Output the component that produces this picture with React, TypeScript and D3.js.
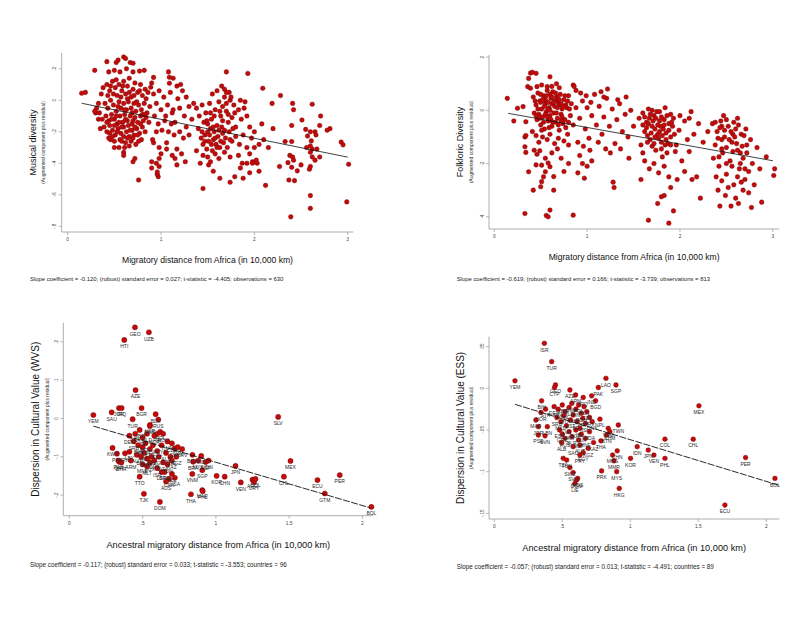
import * as d3 from "d3";

type Pt = [number, number];
type Country = [string, number, number];

// Musical diversity vs migratory distance
const musicalPoints: Pt[] = [
  [0.15,0.045],[0.19,0.05],[0.29,0.19],[0.42,0.245],[0.52,0.24],[0.54,0.255],[0.6,0.275],[0.62,0.265],[0.67,0.24],[0.7,0.235],
  [0.44,0.18],[0.5,0.19],[0.56,0.18],[0.63,0.2],[0.7,0.18],[0.77,0.185],[0.82,0.19],
  [0.92,0.145],[0.9,0.11],[0.89,0.083],[1.08,0.18],[1.09,0.146],[1.09,0.108],[1.13,0.14],
  [1.7,0.18],[1.93,0.17],[2.09,0.076],[2.28,0.03],[2.19,-0.02],[2.41,-0.02],[2.42,-0.06],[2.62,-0.025],
  [2.51,-0.125],[2.71,-0.1],[2.81,-0.18],[2.7,-0.16],[2.4,-0.16],[2.55,-0.185],[2.65,-0.2],[2.78,-0.19],[2.6,-0.2],
  [2.33,-0.262],[2.4,-0.262],[2.57,-0.227],[2.61,-0.258],[2.6,-0.29],[2.66,-0.22],[2.93,-0.265],[2.95,-0.283],
  [2.56,-0.3],[2.62,-0.31],[2.67,-0.31],[2.6,-0.33],
  [2.38,-0.35],[2.41,-0.36],[2.42,-0.38],[2.36,-0.396],[2.4,-0.425],[2.46,-0.448],[2.5,-0.41],[2.6,-0.42],[2.59,-0.437],[2.65,-0.38],[2.7,-0.36],[2.62,-0.36],[3.01,-0.406],
  [2.27,-0.42],[2.37,-0.506],[2.43,-0.51],[2.6,-0.605],[2.6,-0.686],[2.39,-0.74],[2.99,-0.645],
  [2.12,-0.54],[2.05,-0.45],[1.98,-0.39],
  [1.51,-0.41],[1.63,-0.495],[1.74,-0.52],[1.79,-0.485],[1.88,-0.495],[1.95,-0.46],[1.98,-0.4],[2.03,-0.4],[1.92,-0.4],[1.87,-0.4],[1.83,-0.35],[1.95,-0.34],[1.85,-0.43],
  [1.45,-0.56],[1.56,-0.45],[1.42,-0.4],[1.38,-0.32],
  [0.76,-0.506],[0.97,-0.485],[0.96,-0.47],[0.96,-0.455],[0.98,-0.42],[0.95,-0.4],[0.98,-0.37],[0.9,-0.43],[0.9,-0.39],[0.91,-0.25],[0.92,-0.27],[0.98,-0.3],[1.0,-0.34],
  [1.06,-0.31],[1.17,-0.31],[1.22,-0.34],[1.26,-0.39],[1.17,-0.41],[1.12,-0.35],[1.15,-0.37],
  [0.7,-0.39],[0.72,-0.37],[0.6,-0.33],[0.6,-0.35],[0.55,-0.3],[0.5,-0.3],[0.46,-0.25],[0.35,-0.18],[0.33,-0.12],[0.3,-0.08],[0.31,-0.05],[0.37,-0.12],
  [0.42,0.1],[0.45,0.06],[0.48,0.12],[0.51,0.08],[0.53,0.03],[0.55,0.1],[0.58,0.06],[0.6,0.12],[0.62,0.04],[0.64,0.09],[0.66,0.14],[0.68,0.02],[0.7,0.07],[0.72,0.11],[0.75,0.05],[0.78,0.1],[0.8,0.03],[0.83,0.07],[0.86,0.05],
  [0.4,-0.02],[0.43,-0.05],[0.46,0.0],[0.49,-0.03],[0.52,-0.07],[0.55,-0.01],[0.57,-0.05],[0.6,-0.02],[0.63,-0.06],[0.65,-0.01],[0.68,-0.05],[0.71,-0.02],[0.73,-0.07],[0.76,-0.03],[0.79,-0.06],[0.82,-0.02],[0.85,-0.08],[0.88,-0.04],
  [0.41,-0.1],[0.44,-0.13],[0.47,-0.09],[0.5,-0.12],[0.53,-0.15],[0.56,-0.1],[0.59,-0.14],[0.61,-0.09],[0.64,-0.13],[0.67,-0.1],[0.69,-0.15],[0.72,-0.11],[0.75,-0.14],[0.78,-0.1],[0.81,-0.13],[0.84,-0.11],[0.87,-0.14],
  [0.39,-0.17],[0.42,-0.2],[0.45,-0.16],[0.48,-0.19],[0.51,-0.22],[0.54,-0.18],[0.57,-0.21],[0.6,-0.17],[0.63,-0.2],[0.66,-0.23],[0.69,-0.19],[0.71,-0.22],[0.74,-0.18],[0.77,-0.21],[0.8,-0.17],[0.83,-0.2],
  [0.44,-0.24],[0.5,-0.26],[0.56,-0.25],[0.62,-0.27],[0.68,-0.26],[0.73,-0.28],[0.79,-0.25],[0.61,-0.3],[0.66,-0.29],
  [0.33,-0.02],[0.36,0.04],[0.38,0.08],[0.34,-0.08],[0.29,-0.07],
  [0.43,0.03],[0.46,0.09],[0.49,0.04],[0.52,0.13],[0.54,-0.04],[0.57,0.02],[0.59,0.09],[0.61,-0.06],[0.64,0.01],[0.66,0.05],[0.69,-0.08],[0.71,0.03],[0.74,-0.01],[0.77,0.06],[0.8,-0.09],[0.84,0.01],
  [0.42,-0.14],[0.45,-0.21],[0.47,-0.12],[0.5,-0.16],[0.52,-0.1],[0.55,-0.14],[0.58,-0.17],[0.6,-0.23],[0.62,-0.12],[0.65,-0.16],[0.67,-0.19],[0.7,-0.13],[0.72,-0.17],[0.75,-0.22],[0.78,-0.15],[0.82,-0.09],
  [0.48,-0.23],[0.53,-0.2],[0.58,-0.26],[0.64,-0.24],[0.7,-0.24],[0.76,-0.26],
  [0.92,0.04],[0.95,-0.02],[0.98,0.06],[1.0,-0.06],[1.03,0.02],[1.05,-0.1],[1.07,-0.03],[1.1,0.05],[1.12,-0.08],[1.15,-0.14],[1.18,0.01],[1.2,-0.05],[1.23,0.06],[1.25,-0.1],[1.27,-0.17],[1.3,-0.04],[1.33,-0.12],[1.35,-0.02],
  [0.93,-0.1],[0.97,-0.15],[1.01,-0.19],[1.04,-0.13],[1.08,-0.2],[1.11,-0.15],[1.14,-0.22],[1.2,-0.2],[1.24,-0.24],[1.3,-0.22],[0.95,-0.2],[1.06,-0.27],[1.13,-0.06],[1.17,0.09],[1.21,0.1],[1.27,0.02],
  [1.38,-0.05],[1.41,-0.1],[1.44,-0.03],[1.46,-0.14],[1.48,-0.08],[1.5,-0.2],[1.52,-0.02],[1.54,-0.12],[1.56,-0.25],[1.58,-0.06],[1.6,-0.16],[1.62,-0.01],[1.64,-0.1],[1.66,-0.21],[1.68,0.02],[1.7,-0.07],[1.72,-0.14],[1.74,0.0],[1.76,-0.11],[1.78,-0.03],[1.8,-0.17],[1.83,-0.06],[1.86,-0.12],[1.89,-0.05],[1.92,-0.1],[1.95,-0.17],
  [1.4,-0.18],[1.43,-0.24],[1.45,-0.28],[1.47,-0.22],[1.49,-0.31],[1.51,-0.26],[1.53,-0.18],[1.55,-0.32],[1.57,-0.2],[1.59,-0.28],[1.61,-0.23],[1.63,-0.3],[1.65,-0.17],[1.67,-0.27],[1.69,-0.24],[1.71,-0.3],[1.73,-0.2],[1.76,-0.26],[1.8,-0.23],[1.84,-0.28],[1.88,-0.22],[1.92,-0.3],[1.97,-0.24],
  [1.44,-0.2],[1.47,-0.26],[1.5,-0.15],[1.52,-0.22],[1.54,-0.28],[1.56,-0.17],[1.58,-0.24],[1.6,-0.3],[1.62,-0.19],[1.64,-0.26],[1.66,-0.13],[1.68,-0.19],[1.7,-0.02],[1.72,-0.09],[1.74,-0.25],[1.77,-0.18],[1.79,-0.08],[1.66,-0.04],[1.63,-0.07],[1.57,-0.1],[1.53,-0.08],[1.49,-0.13],[1.73,0.05],[1.68,0.07],
  [1.45,-0.35],[1.5,-0.36],[1.53,-0.39],[1.58,-0.34],[1.62,-0.37],[1.68,-0.33],[1.74,-0.36],
  [1.55,0.04],[1.6,0.06],[1.65,0.09],[1.7,0.05],[1.75,0.02],[1.85,0.0],[1.9,-0.01],
  [2.0,-0.2],[2.05,-0.28],[2.1,-0.25],[2.15,-0.3],[2.2,-0.18],[2.08,-0.15],[2.0,-0.3],[2.02,-0.38],
];

// Folkloric diversity vs migratory distance
const folkloricPoints: Pt[] = [
  [0.39,1.4],[0.41,1.43],[0.45,1.39],[0.37,1.2],[0.36,0.89],[0.39,0.83],[0.6,1.26],[0.67,1.0],[0.46,0.89],[0.51,0.95],[0.57,0.89],[0.62,0.9],[0.7,0.85],[0.85,0.95],[0.86,0.9],[0.93,0.65],[0.88,0.75],
  [0.14,0.45],[0.21,-0.4],[0.25,0.08],[0.31,0.14],[0.34,-0.43],[0.33,-1.0],[0.34,-0.95],[0.33,-1.37],[0.34,-1.58],[0.37,-2.31],[0.42,-3.0],[0.33,-3.88],[0.56,-3.95],[0.58,-4.0],[0.6,-3.75],[0.64,-3.0],[0.64,-2.49],
  [0.5,-2.87],[0.51,-2.68],[0.53,-2.5],[0.55,-2.31],[0.6,-2.12],[0.51,-2.06],[0.55,-1.8],[0.58,-1.98],[0.85,-3.94],[0.43,-1.5],[0.46,-1.65],[0.49,-1.52],[0.45,-2.05],[0.62,-1.6],[0.68,-1.45],[0.72,-1.8],[0.8,-2.0],[0.75,-2.3],[0.9,-2.35],[0.95,-2.0],[0.97,-2.55],[1.0,-2.1],[0.92,-1.7],[1.05,-1.9],
  [0.42,0.5],[0.45,0.2],[0.47,0.65],[0.49,0.35],[0.51,0.05],[0.53,0.55],[0.55,0.25],[0.57,0.75],[0.59,0.1],[0.61,0.45],[0.63,0.7],[0.65,0.15],[0.67,0.5],[0.69,0.3],[0.71,0.6],[0.73,0.05],[0.75,0.4],[0.77,0.2],[0.8,0.55],[0.83,0.25],
  [0.43,-0.1],[0.46,-0.35],[0.48,-0.15],[0.5,-0.55],[0.52,-0.25],[0.54,-0.7],[0.56,-0.05],[0.58,-0.4],[0.6,-0.2],[0.62,-0.6],[0.64,-0.1],[0.66,-0.45],[0.68,-0.3],[0.7,-0.75],[0.72,-0.15],[0.74,-0.5],[0.76,-0.35],[0.79,-0.9],[0.82,-0.2],[0.85,-0.55],
  [0.41,-0.8],[0.45,-0.95],[0.48,-1.2],[0.52,-1.0],[0.57,-1.1],[0.6,-0.9],[0.65,-1.25],[0.69,-1.05],[0.75,-1.15],[0.8,-1.3],[0.55,0.4],[0.6,0.6],[0.7,0.2],[0.65,0.35],[0.5,0.3],[0.58,0.05],[0.62,0.25],[0.68,0.1],[0.72,-0.4],[0.78,0.1],
  [0.44,0.35],[0.47,0.05],[0.5,0.6],[0.52,0.4],[0.54,0.15],[0.56,0.55],[0.58,0.3],[0.6,0.0],[0.62,0.5],[0.64,0.3],[0.66,0.65],[0.68,0.45],[0.7,0.4],[0.72,0.25],[0.74,0.15],[0.76,0.55],[0.79,0.35],[0.81,0.05],
  [0.45,-0.2],[0.49,-0.3],[0.53,-0.45],[0.55,-0.15],[0.57,-0.25],[0.61,-0.35],[0.63,-0.45],[0.67,-0.1],[0.69,-0.55],[0.73,-0.25],[0.77,-0.65],[0.8,-0.45],[0.51,-0.75],[0.59,-0.65],
  [0.88,0.1],[0.92,-0.3],[0.95,0.35],[0.98,-0.7],[1.0,0.1],[1.02,-1.05],[1.05,-0.2],[1.08,0.6],[1.1,-0.55],[1.13,0.15],[1.16,-0.9],[1.18,-0.25],[1.21,0.45],[1.24,-0.6],[1.27,0.05],[1.3,-1.25],[1.32,-0.35],[1.35,0.25],[1.38,-0.8],[1.41,-0.15],[1.44,-1.0],[1.47,0.0],[1.5,-0.6],
  [0.9,-1.2],[0.96,-1.35],[1.03,-1.5],[1.12,-1.2],[1.2,-1.45],[1.28,-2.7],[1.29,-2.9],[1.25,-1.6],[1.36,-1.45],[1.45,-1.8],[1.15,0.7],[1.22,0.8],[1.18,0.5],[0.99,0.55],[1.04,0.3],[1.42,0.5],[1.33,0.4],
  [1.56,-0.3],[1.58,-1.3],[1.6,-0.1],[1.62,-0.8],[1.64,-0.45],[1.66,0.05],[1.68,-1.1],[1.7,-0.6],[1.72,-0.2],[1.74,-1.5],[1.76,-0.9],[1.78,-0.4],[1.8,-1.2],[1.82,-0.7],[1.84,0.1],[1.86,-1.6],[1.88,-0.5],[1.9,-1.0],[1.93,-0.3],[1.96,-1.3],[1.99,-0.75],[2.02,-1.9],[2.05,-0.4],[2.08,-1.1],
  [1.6,-0.55],[1.65,-0.95],[1.67,-0.3],[1.7,-1.35],[1.73,-0.7],[1.75,-0.05],[1.77,-1.05],[1.79,-0.6],[1.81,-1.75],[1.83,-0.35],[1.85,-0.85],[1.87,-1.25],[1.9,-0.15],[1.92,-0.6],[1.95,-1.55],[1.62,-1.9],[1.67,-2.2],[1.72,-2.0],[1.77,-2.35],[1.83,-2.1],[1.88,-2.5],[1.6,-1.6],[1.58,-2.6],
  [1.62,-0.25],[1.64,-0.65],[1.66,-0.5],[1.68,-0.15],[1.69,-0.85],[1.71,-0.4],[1.73,-1.0],[1.74,-0.3],[1.76,-0.55],[1.78,-0.8],[1.8,-0.25],[1.81,-0.95],[1.83,-0.55],[1.85,-1.1],[1.86,-0.2],[1.88,-0.75],[1.9,-1.3],[1.91,-0.45],[1.94,-0.9],[1.7,0.0],[1.78,-0.05],[1.65,-1.2],[1.72,-1.25],[1.8,-1.45],[1.84,-1.3],
  [1.66,-4.13],[1.88,-4.24],[1.93,-3.78],[1.76,-3.5],[1.8,-3.25],[1.83,-3.2],[1.9,-2.9],[1.97,-2.6],[2.05,-2.3],[2.1,-1.55],[2.13,-2.6],[2.18,-2.5],[2.22,-3.3],[2.0,-0.2],[2.1,-0.3],[2.15,-0.9],[2.2,-0.5],[2.25,-1.2],[2.3,-0.8],[2.12,-0.05],
  [2.35,-0.5],[2.38,-1.3],[2.4,-0.8],[2.42,-2.1],[2.44,-0.4],[2.46,-1.6],[2.48,-1.0],[2.5,-2.4],[2.52,-0.6],[2.54,-1.9],[2.56,-1.2],[2.58,-2.8],[2.6,-0.7],[2.62,-1.5],[2.64,-2.2],[2.66,-0.9],[2.68,-1.8],[2.7,-2.6],[2.72,-1.3],[2.74,-3.1],[2.76,-1.1],[2.78,-2.0],
  [2.36,-1.8],[2.39,-2.5],[2.41,-3.0],[2.43,-3.6],[2.45,-1.1],[2.47,-0.2],[2.49,-3.2],[2.52,-2.9],[2.55,-3.6],[2.57,-0.9],[2.6,-3.3],[2.63,-3.5],[2.65,-2.0],[2.68,-3.0],[2.71,-0.7],[2.74,-2.3],[2.77,-3.65],[2.8,-2.8],[2.83,-1.4],[2.86,-2.2],[2.88,-3.45],[2.93,-1.75],[3.02,-2.2],[3.01,-2.45],[2.45,-0.6],[2.5,-1.4],[2.58,-0.45],[2.62,-0.3],
  [2.38,-0.45],[2.41,-1.05],[2.43,-0.65],[2.45,-1.45],[2.48,-0.75],[2.5,-0.35],[2.53,-1.1],[2.55,-0.8],[2.57,-1.55],[2.59,-1.0],[2.61,-1.25],[2.63,-0.55],[2.65,-1.6],[2.67,-1.35],[2.69,-0.95],[2.42,-1.75],[2.5,-2.0],[2.56,-2.1],[2.62,-2.5],[2.7,-2.2],[2.72,-1.6],[2.66,-2.7],[2.45,-2.65],
];

// Dispersion in cultural value, WVS countries
const wvsCountries: Country[] = [
  ["GEO",0.448,0.238],["UZB",0.543,0.225],["HTI",0.375,0.205],["AZE",0.452,0.074],["YEM",0.164,0.009],["SAU",0.289,0.016],
  ["JOR",0.339,0.027],["IRQ",0.357,0.027],["BGR",0.493,0.027],["TUR",0.432,-0.002],["BLR",0.589,0.011],["RUS",0.607,-0.003],
  ["UKR",0.55,-0.017],["SLV",1.425,0.004],["KWT",0.295,-0.077],["PSE",0.325,-0.092],["IRN",0.38,-0.091],["LBY",0.41,-0.087],
  ["ARM",0.42,-0.11],["PAK",0.335,-0.11],["QAT",0.34,-0.113],["BHR",0.355,-0.115],["TTO",0.48,-0.152],["TJK",0.509,-0.197],
  ["DOM",0.618,-0.218],["THA",0.83,-0.198],["MAR",0.907,-0.187],["PHL",0.91,-0.19],["VNM",0.839,-0.145],["SGP",0.907,-0.135],
  ["KOR",1.005,-0.15],["CHN",1.06,-0.152],["BRA",0.845,-0.113],["ESP",0.93,-0.114],["IND",0.9,-0.098],["JPN",1.134,-0.124],
  ["VEN",1.17,-0.167],["MEX",1.509,-0.111],["CHL",1.464,-0.152],["ARG",1.25,-0.16],["URY",1.26,-0.166],["COL",1.27,-0.158],
  ["ECU",1.693,-0.161],["PER",1.845,-0.148],["GTM",1.743,-0.196],["BOL",2.061,-0.231],["CAN",0.68,-0.158],["USA",0.72,-0.155],
  ["LBN",0.63,-0.14],["NZL",0.7,-0.145],["AUS",0.66,-0.165],
  ["DEU",0.41,-0.045],["FRA",0.45,-0.04],["GBR",0.48,-0.03],["ITA",0.5,-0.05],["NLD",0.53,-0.04],["SWE",0.55,-0.02],["NOR",0.58,-0.045],
  ["FIN",0.6,-0.04],["POL",0.62,-0.035],["ROU",0.64,-0.04],["HUN",0.67,-0.06],["CZE",0.7,-0.065],["SVK",0.72,-0.078],["SVN",0.74,-0.075],
  ["HRV",0.77,-0.08],["SRB",0.44,-0.06],["BIH",0.47,-0.07],["MKD",0.5,-0.075],["MDA",0.52,-0.065],["LTU",0.55,-0.08],["LVA",0.57,-0.07],
  ["EST",0.6,-0.085],["CYP",0.63,-0.07],["ALB",0.66,-0.09],["CHE",0.69,-0.1],["AUT",0.46,-0.095],["BEL",0.49,-0.1],["IRL",0.51,-0.09],
  ["PRT",0.53,-0.105],["ISL",0.56,-0.1],["DNK",0.58,-0.11],["EGY",0.61,-0.1],["DZA",0.64,-0.115],["TUN",0.67,-0.12],["KAZ",0.7,-0.11],
  ["KGZ",0.73,-0.1],["MNE",0.5,-0.12],["MLT",0.53,-0.125],["LUX",0.55,-0.115],["ISR",0.6,-0.13],["GRC",0.65,-0.14],["IDN",0.95,-0.11],
  ["MYS",0.88,-0.11],["BGD",0.84,-0.095],
];

// Dispersion in cultural value, ESS countries
const essCountries: Country[] = [
  ["ISR",0.368,0.054],["TUR",0.422,0.032],["YEM",0.152,0.009],["GEO",0.45,0.004],["CYP",0.443,0.001],["LAO",0.821,0.012],
  ["SGP",0.895,0.004],["PAK",0.765,0.001],["IND",0.716,-0.009],["BGD",0.745,-0.015],["AZE",0.556,-0.002],["ARM",0.598,-0.008],
  ["IRQ",0.654,-0.011],["BIH",0.348,-0.015],["SYR",0.377,-0.025],["NOR",0.343,-0.029],["MAR",0.306,-0.038],["JOR",0.324,-0.046],
  ["PSE",0.324,-0.056],["SVN",0.373,-0.057],["LBN",0.39,-0.046],["ALB",0.495,-0.065],["NPL",0.777,-0.037],["TWN",0.912,-0.044],
  ["VNM",0.838,-0.048],["KHM",0.85,-0.052],["BTN",0.826,-0.056],["THA",0.784,-0.063],["COL",1.255,-0.061],["CHL",1.463,-0.061],
  ["MEX",1.505,-0.021],["IDN",1.051,-0.07],["JPN",1.132,-0.074],["VEN",1.174,-0.08],["PHL",1.255,-0.084],["KOR",1.002,-0.084],
  ["CHN",0.904,-0.075],["MNG",0.87,-0.08],["MMR",0.88,-0.087],["PRK",0.789,-0.099],["MYS",0.9,-0.1],["HKG",0.919,-0.12],
  ["ECU",1.696,-0.14],["PER",1.848,-0.083],["BOL",2.064,-0.108],["EGY",0.654,-0.077],["PRY",0.63,-0.08],["TZA",0.507,-0.084],
  ["TUN",0.532,-0.086],["SWZ",0.556,-0.095],["SVK",0.58,-0.101],["MDG",0.613,-0.108],["DOM",0.605,-0.11],["LIE",0.593,-0.114],
  ["DEU",0.44,-0.022],["FRA",0.47,-0.025],["GBR",0.5,-0.02],["ITA",0.52,-0.028],["NLD",0.55,-0.023],["SWE",0.57,-0.018],
  ["FIN",0.6,-0.025],["POL",0.62,-0.02],["ROU",0.64,-0.03],["HUN",0.66,-0.022],["CZE",0.68,-0.028],["HRV",0.7,-0.035],
  ["SRB",0.46,-0.035],["MKD",0.49,-0.04],["LTU",0.51,-0.033],["LVA",0.53,-0.045],["EST",0.56,-0.038],["CHE",0.58,-0.032],
  ["BEL",0.61,-0.04],["IRL",0.63,-0.048],["PRT",0.65,-0.036],["ISL",0.67,-0.042],["DNK",0.72,-0.04],["ESP",0.48,-0.05],
  ["GRC",0.5,-0.055],["RUS",0.52,-0.06],["UKR",0.55,-0.052],["BLR",0.57,-0.058],["BGR",0.6,-0.05],["MLT",0.62,-0.062],
  ["LUX",0.64,-0.055],["MNE",0.67,-0.06],["MDA",0.7,-0.052],["KAZ",0.73,-0.065],["SAU",0.58,-0.07],["AUT",0.63,-0.068],
  ["KGZ",0.69,-0.072],
];

const distTicks3 = [0, 1, 2, 3];
const distTicksHalf = [0, 0.5, 1, 1.5, 2];
const musicalTicksY = [0.2, 0, -0.2, -0.4, -0.6, -0.8];
const folkloricTicksY = [2, 0, -2, -4];
const wvsTicksY = [0.2, 0.1, 0, -0.1, -0.2];
const essTicksY = [0.05, 0, -0.05, -0.1, -0.15];

const FONT = "'Liberation Sans', Arial, Helvetica, sans-serif";
const RED = "#c30b0b";
const RED_EDGE = "#6e0000";

// Stata style numbers: .5, -.2, 1.5
const fmt = (v: number) => (v === 0 ? "0" : String(v).replace(/^(-?)0\./, "$1."));

interface PanelProps {
  box: { left: number; right: number; top: number; bottom: number };
  xDomain: [number, number];
  yDomain: [number, number];
  xTicks: number[];
  yTicks: number[];
  points: Pt[];
  labels?: string[];
  radius: number;
  fit: { slope: number; intercept: number; x0: number; x1: number; dashed: boolean };
  yTitle: string;
  yTitleSize: number;
  yTitleX: number;
  ySubX: number;
  xTitle: string;
  xTitleSize: number;
  xTitleY: number;
  footer: string;
  footerSize: number;
  footerX: number;
  footerY: number;
}

function Panel(p: PanelProps) {
  const { box } = p;
  const x = d3.scaleLinear().domain(p.xDomain).range([box.left, box.right]);
  const y = d3.scaleLinear().domain(p.yDomain).range([box.bottom, box.top]);
  const line = d3
    .line<number>()
    .x((d) => x(d))
    .y((d) => y(p.fit.intercept + p.fit.slope * d));
  const midY = (box.top + box.bottom) / 2;
  const midX = (box.left + box.right) / 2;

  return (
    <g fontFamily={FONT}>
      {/* axes */}
      <line x1={box.left} x2={box.left} y1={box.top} y2={box.bottom} stroke="#9a9a9a" strokeWidth={0.8} />
      <line x1={box.left} x2={box.right} y1={box.bottom} y2={box.bottom} stroke="#9a9a9a" strokeWidth={0.8} />
      {p.yTicks.map((t) => (
        <g key={"y" + t}>
          <line x1={box.left - 3} x2={box.left} y1={y(t)} y2={y(t)} stroke="#9a9a9a" strokeWidth={0.7} />
          <text
            transform={`translate(${box.left - 5.5},${y(t)}) rotate(-90)`}
            textAnchor="middle"
            fontSize={4.6}
            fill="#444"
          >
            {fmt(t)}
          </text>
        </g>
      ))}
      {p.xTicks.map((t) => (
        <g key={"x" + t}>
          <line x1={x(t)} x2={x(t)} y1={box.bottom} y2={box.bottom + 3} stroke="#9a9a9a" strokeWidth={0.7} />
          <text x={x(t)} y={box.bottom + 9} textAnchor="middle" fontSize={4.8} fill="#444">
            {fmt(t)}
          </text>
        </g>
      ))}

      {/* points */}
      {p.points.map((d, i) => (
        <circle key={i} cx={x(d[0])} cy={y(d[1])} r={p.radius} fill={RED} stroke={RED_EDGE} strokeWidth={0.4} />
      ))}
      {p.labels &&
        p.points.map((d, i) => (
          <text key={"l" + i} x={x(d[0])} y={y(d[1]) + 8.3} textAnchor="middle" fontSize={5} fill="#2a2a2a">
            {p.labels![i]}
          </text>
        ))}

      {/* fitted line */}
      <path
        d={line([p.fit.x0, p.fit.x1]) || ""}
        fill="none"
        stroke="#111"
        strokeWidth={p.fit.dashed ? 0.9 : 0.8}
        strokeDasharray={p.fit.dashed ? "7,1.4" : undefined}
      />

      {/* titles */}
      <text
        transform={`translate(${p.yTitleX},${midY}) rotate(-90)`}
        textAnchor="middle"
        fontSize={p.yTitleSize}
        fill="#111"
      >
        {p.yTitle}
      </text>
      <text
        transform={`translate(${p.ySubX},${midY}) rotate(-90)`}
        textAnchor="middle"
        fontSize={4.9}
        fill="#333"
      >
        (Augmented component plus residual)
      </text>
      <text x={midX} y={p.xTitleY} textAnchor="middle" fontSize={p.xTitleSize} fill="#111">
        {p.xTitle}
      </text>
      <text x={p.footerX} y={p.footerY} fontSize={p.footerSize} fill="#222">
        {p.footer}
      </text>
    </g>
  );
}

export default function App() {
  return (
    <svg
      width={812}
      height={621}
      viewBox="0 0 812 621"
      style={{ position: "absolute", left: 0, top: 0, background: "#fff" }}
    >
      <rect width={812} height={621} fill="#fff" />
      <Panel
        box={{ left: 61.7, right: 353.3, top: 53, bottom: 232 }}
        xDomain={[-0.064, 3.06]}
        yDomain={[-0.836, 0.3]}
        xTicks={distTicks3}
        yTicks={musicalTicksY}
        points={musicalPoints}
        radius={2.3}
        fit={{ slope: -0.12, intercept: -0.001, x0: 0.15, x1: 3.0, dashed: false }}
        yTitle="Musical diversity"
        yTitleSize={9}
        yTitleX={36}
        ySubX={44.5}
        xTitle="Migratory distance from Africa (in 10,000 km)"
        xTitleSize={8.6}
        xTitleY={263}
        footer="Slope coefficient = -0.120; (robust) standard error = 0.027; t-statistic = -4.405; observations = 630"
        footerSize={5.9}
        footerX={30}
        footerY={281}
      />
      <Panel
        box={{ left: 489, right: 779.3, top: 55, bottom: 229 }}
        xDomain={[-0.057, 3.07]}
        yDomain={[-4.46, 2.08]}
        xTicks={distTicks3}
        yTicks={folkloricTicksY}
        points={folkloricPoints}
        radius={2.3}
        fit={{ slope: -0.625, intercept: -0.019, x0: 0.15, x1: 3.0, dashed: false }}
        yTitle="Folkloric Diversity"
        yTitleSize={9}
        yTitleX={463}
        ySubX={472.5}
        xTitle="Migratory distance from Africa (in 10,000 km)"
        xTitleSize={8.6}
        xTitleY={260}
        footer="Slope coefficient = -0.619; (robust) standard error = 0.166; t-statistic = -3.739; observations = 813"
        footerSize={5.9}
        footerX={456.7}
        footerY={281}
      />
      <Panel
        box={{ left: 63.3, right: 373.3, top: 322.7, bottom: 515.7 }}
        xDomain={[-0.041, 2.074]}
        yDomain={[-0.254, 0.25]}
        xTicks={distTicksHalf}
        yTicks={wvsTicksY}
        points={wvsCountries.map((c) => [c[1], c[2]] as Pt)}
        labels={wvsCountries.map((c) => c[0])}
        radius={2.6}
        fit={{ slope: -0.113, intercept: -0.0015, x0: 0.164, x1: 2.05, dashed: true }}
        yTitle="Dispersion in Cultural Value (WVS)"
        yTitleSize={10}
        yTitleX={38.5}
        ySubX={49}
        xTitle="Ancestral migratory distance from Africa (in 10,000 km)"
        xTitleSize={9.2}
        xTitleY={547.5}
        footer="Slope coefficient = -0.117; (robust) standard error = 0.033; t-statistic = -3.553; countries = 96"
        footerSize={6.3}
        footerX={30}
        footerY={567}
      />
      <Panel
        box={{ left: 489, right: 779.3, top: 336.7, bottom: 519 }}
        xDomain={[-0.039, 2.096]}
        yDomain={[-0.1567, 0.0619]}
        xTicks={distTicksHalf}
        yTicks={essTicksY}
        points={essCountries.map((c) => [c[1], c[2]] as Pt)}
        labels={essCountries.map((c) => c[0])}
        radius={2.4}
        fit={{ slope: -0.05, intercept: -0.0116, x0: 0.152, x1: 2.1, dashed: true }}
        yTitle="Dispersion in Cultural Value (ESS)"
        yTitleSize={10}
        yTitleX={464}
        ySubX={473}
        xTitle="Ancestral migratory distance from Africa (in 10,000 km)"
        xTitleSize={9.2}
        xTitleY={550.5}
        footer="Slope coefficient = -0.057; (robust) standard error = 0.013; t-statistic = -4.491; countries = 89"
        footerSize={6.3}
        footerX={456.7}
        footerY={569}
      />
    </svg>
  );
}
